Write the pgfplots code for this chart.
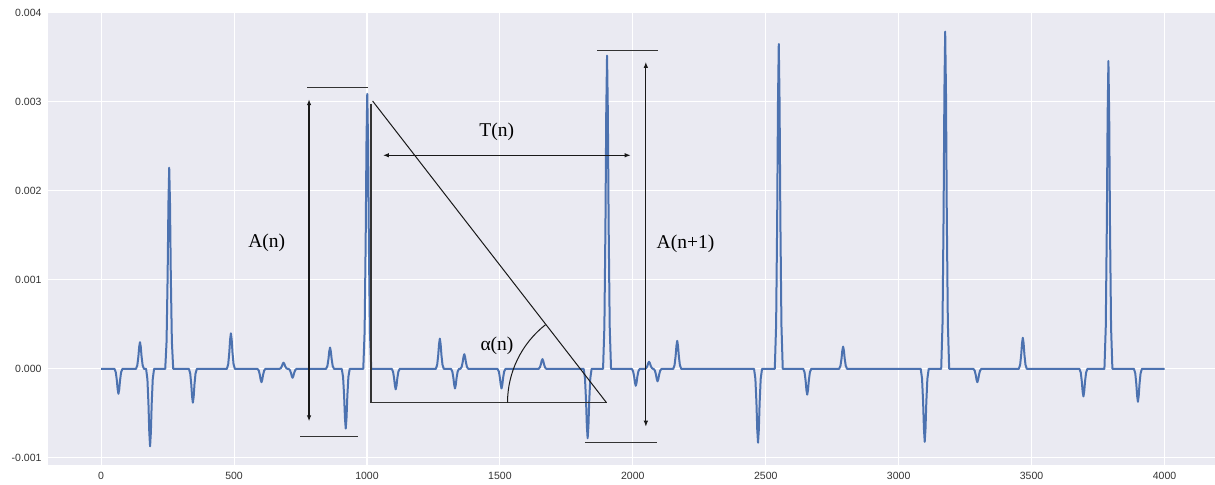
\documentclass[border=0pt]{standalone}
\usepackage{pgfplots}
\pgfplotsset{compat=1.18}
\usepackage{fontspec}
\setmainfont{Liberation Sans}
\newfontfamily\tnr{Liberation Serif}
\usetikzlibrary{arrows.meta}
\definecolor{sbbg}{HTML}{EAEAF2}
\definecolor{sbblue}{HTML}{4C72B0}
\begin{document}
\begin{tikzpicture}
\begin{axis}[
  name=ax,
  scale only axis, width=1167pt, height=453pt,
  xmin=-200, xmax=4190, ymin=-0.00108, ymax=0.00401,
  axis background/.style={fill=sbbg},
  axis line style={draw=none},
  tick style={draw=none},
  major tick length=0pt,
  grid=major, major grid style={white, line width=1.1pt},
  xtick={0,500,...,4000}, ytick={-0.001,0,0.001,0.002,0.003,0.004},
  scaled ticks=false,
  /pgf/number format/assume math mode=true,
  xticklabel style={/pgf/number format/1000 sep={}, yshift=-4pt},
  yticklabel style={/pgf/number format/.cd, fixed, fixed zerofill, precision=3, /tikz/.cd, xshift=-3pt},
  ticklabel style={font=\fontsize{10.5}{12}\selectfont, text=black!80},
]
\addplot[sbblue, line width=2pt, line join=round, mark=none] table[row sep=\\] {
x y\\
0 0\\
50 0\\ 55 -0.378e-4\\ 59 -1.288e-4\\ 62 -2.296e-4\\ 65 -2.8e-4\\ 68 -2.296e-4\\ 71 -1.288e-4\\ 75 -0.378e-4\\ 80 0\\
131 0\\ 136 0.405e-4\\ 140 1.38e-4\\ 143 2.46e-4\\ 146 3.0e-4\\ 149 2.46e-4\\ 152 1.38e-4\\ 156 0.405e-4\\ 161 0\\
169 0\\ 174 -1.17e-4\\ 178 -4.0e-4\\ 181 -7.13e-4\\ 184 -8.7e-4\\ 187 -7.13e-4\\ 190 -4.0e-4\\ 194 -1.17e-4\\ 199 0\\
241 0\\ 246 3.05e-4\\ 250 10.4e-4\\ 253 18.53e-4\\ 256 22.6e-4\\ 259 18.53e-4\\ 262 10.4e-4\\ 266 3.05e-4\\ 271 0\\
330 0\\ 335 -0.51e-4\\ 339 -1.75e-4\\ 342 -3.12e-4\\ 345 -3.8e-4\\ 348 -3.12e-4\\ 351 -1.75e-4\\ 355 -0.51e-4\\ 360 0\\
473 0\\ 478 0.54e-4\\ 482 1.84e-4\\ 485 3.28e-4\\ 488 4.0e-4\\ 491 3.28e-4\\ 494 1.84e-4\\ 498 0.54e-4\\ 503 0\\
588 0\\ 593 -0.2e-4\\ 597 -0.69e-4\\ 600 -1.23e-4\\ 603 -1.5e-4\\ 606 -1.23e-4\\ 609 -0.69e-4\\ 613 -0.2e-4\\ 618 0\\
671 0\\ 676 0.09e-4\\ 680 0.32e-4\\ 683 0.57e-4\\ 686 0.7e-4\\ 689 0.57e-4\\ 692 0.32e-4\\ 696 0.09e-4\\ 701 0\\
705 0\\ 710 -0.135e-4\\ 714 -0.46e-4\\ 717 -0.82e-4\\ 720 -1.0e-4\\ 723 -0.82e-4\\ 726 -0.46e-4\\ 730 -0.135e-4\\ 735 0\\
846 0\\ 851 0.32e-4\\ 855 1.1e-4\\ 858 1.97e-4\\ 861 2.4e-4\\ 864 1.97e-4\\ 867 1.1e-4\\ 871 0.32e-4\\ 876 0\\
905 0\\ 910 -0.9e-4\\ 914 -3.08e-4\\ 917 -5.49e-4\\ 920 -6.7e-4\\ 923 -5.49e-4\\ 926 -3.08e-4\\ 930 -0.9e-4\\ 935 0\\
986 0\\ 991 4.17e-4\\ 995 14.21e-4\\ 998 25.34e-4\\ 1001 30.9e-4\\ 1004 25.34e-4\\ 1007 14.21e-4\\ 1011 4.17e-4\\ 1016 0\\
1093 0\\ 1098 -0.31e-4\\ 1102 -1.06e-4\\ 1105 -1.89e-4\\ 1108 -2.3e-4\\ 1111 -1.89e-4\\ 1114 -1.06e-4\\ 1118 -0.31e-4\\ 1123 0\\
1259 0\\ 1264 0.46e-4\\ 1268 1.56e-4\\ 1271 2.79e-4\\ 1274 3.4e-4\\ 1277 2.79e-4\\ 1280 1.56e-4\\ 1284 0.46e-4\\ 1289 0\\
1316 0\\ 1321 -0.3e-4\\ 1325 -1.01e-4\\ 1328 -1.8e-4\\ 1331 -2.2e-4\\ 1334 -1.8e-4\\ 1337 -1.01e-4\\ 1341 -0.3e-4\\ 1346 0\\
1351 0\\ 1356 0.22e-4\\ 1360 0.76e-4\\ 1363 1.35e-4\\ 1366 1.65e-4\\ 1369 1.35e-4\\ 1372 0.76e-4\\ 1376 0.22e-4\\ 1381 0\\
1491 0\\ 1496 -0.3e-4\\ 1500 -1.01e-4\\ 1503 -1.8e-4\\ 1506 -2.2e-4\\ 1509 -1.8e-4\\ 1512 -1.01e-4\\ 1516 -0.3e-4\\ 1521 0\\
1645 0\\ 1650 0.15e-4\\ 1654 0.51e-4\\ 1657 0.9e-4\\ 1660 1.1e-4\\ 1663 0.9e-4\\ 1666 0.51e-4\\ 1670 0.15e-4\\ 1675 0\\
1815 0\\ 1820 -1.05e-4\\ 1824 -3.59e-4\\ 1827 -6.4e-4\\ 1830 -7.8e-4\\ 1833 -6.4e-4\\ 1836 -3.59e-4\\ 1840 -1.05e-4\\ 1845 0\\
1888 0\\ 1893 4.75e-4\\ 1897 16.19e-4\\ 1900 28.86e-4\\ 1903 35.2e-4\\ 1906 28.86e-4\\ 1909 16.19e-4\\ 1913 4.75e-4\\ 1918 0\\
1996 0\\ 2001 -0.26e-4\\ 2005 -0.87e-4\\ 2008 -1.56e-4\\ 2011 -1.9e-4\\ 2014 -1.56e-4\\ 2017 -0.87e-4\\ 2021 -0.26e-4\\ 2026 0\\
2046 0\\ 2051 0.11e-4\\ 2055 0.37e-4\\ 2058 0.66e-4\\ 2061 0.8e-4\\ 2064 0.66e-4\\ 2067 0.37e-4\\ 2071 0.11e-4\\ 2076 0\\
2078 0\\ 2083 -0.19e-4\\ 2087 -0.64e-4\\ 2090 -1.15e-4\\ 2093 -1.4e-4\\ 2096 -1.15e-4\\ 2099 -0.64e-4\\ 2103 -0.19e-4\\ 2108 0\\
2152 0\\ 2157 0.43e-4\\ 2161 1.45e-4\\ 2164 2.58e-4\\ 2167 3.15e-4\\ 2170 2.58e-4\\ 2173 1.45e-4\\ 2177 0.43e-4\\ 2182 0\\
2456 0\\ 2461 -1.12e-4\\ 2465 -3.82e-4\\ 2468 -6.81e-4\\ 2471 -8.3e-4\\ 2474 -6.81e-4\\ 2477 -3.82e-4\\ 2481 -1.12e-4\\ 2486 0\\
2534 0\\ 2539 4.93e-4\\ 2543 16.79e-4\\ 2546 29.93e-4\\ 2549 36.5e-4\\ 2552 29.93e-4\\ 2555 16.79e-4\\ 2559 4.93e-4\\ 2564 0\\
2641 0\\ 2646 -0.39e-4\\ 2650 -1.33e-4\\ 2653 -2.38e-4\\ 2656 -2.9e-4\\ 2659 -2.38e-4\\ 2662 -1.33e-4\\ 2666 -0.39e-4\\ 2671 0\\
2776 0\\ 2781 0.34e-4\\ 2785 1.15e-4\\ 2788 2.05e-4\\ 2791 2.5e-4\\ 2794 2.05e-4\\ 2797 1.15e-4\\ 2801 0.34e-4\\ 2806 0\\
3083 0\\ 3088 -1.11e-4\\ 3092 -3.77e-4\\ 3095 -6.72e-4\\ 3098 -8.2e-4\\ 3101 -6.72e-4\\ 3104 -3.77e-4\\ 3108 -1.11e-4\\ 3113 0\\
3160 0\\ 3165 5.12e-4\\ 3169 17.43e-4\\ 3172 31.08e-4\\ 3175 37.9e-4\\ 3178 31.08e-4\\ 3181 17.43e-4\\ 3185 5.12e-4\\ 3190 0\\
3281 0\\ 3286 -0.2e-4\\ 3290 -0.69e-4\\ 3293 -1.23e-4\\ 3296 -1.5e-4\\ 3299 -1.23e-4\\ 3302 -0.69e-4\\ 3306 -0.2e-4\\ 3311 0\\
3452 0\\ 3457 0.47e-4\\ 3461 1.61e-4\\ 3464 2.87e-4\\ 3467 3.5e-4\\ 3470 2.87e-4\\ 3473 1.61e-4\\ 3477 0.47e-4\\ 3482 0\\
3680 0\\ 3685 -0.42e-4\\ 3689 -1.43e-4\\ 3692 -2.54e-4\\ 3695 -3.1e-4\\ 3698 -2.54e-4\\ 3701 -1.43e-4\\ 3705 -0.42e-4\\ 3710 0\\
3774 0\\ 3779 4.67e-4\\ 3783 15.92e-4\\ 3786 28.37e-4\\ 3789 34.6e-4\\ 3792 28.37e-4\\ 3795 15.92e-4\\ 3799 4.67e-4\\ 3804 0\\
3885 0\\ 3890 -0.5e-4\\ 3894 -1.7e-4\\ 3897 -3.03e-4\\ 3900 -3.7e-4\\ 3903 -3.03e-4\\ 3906 -1.7e-4\\ 3910 -0.5e-4\\ 3915 0\\
4000 0\\
};
% annotations
\tikzset{ann/.style={black!80, line width=1.2pt},
  dbl/.style={black!90, line width=1.1pt, {Latex[length=6pt,width=4.5pt]}-{Latex[length=6pt,width=4.5pt]}},
  lab/.style={font=\tnr\fontsize{19.5}{22}\selectfont, text=black}}
% A(n)
\draw[ann] (axis cs:776,0.00316) -- (axis cs:1005,0.00316);
\draw[dbl] (axis cs:782,0.00303) -- (axis cs:782,-0.00059);
\draw[ann] (axis cs:748,-0.00076) -- (axis cs:965,-0.00076);
\node[lab] at (axis cs:623,0.00142) {A(n)};
% triangle
\draw[ann] (axis cs:1015,0.00298) -- (axis cs:1015,-0.00038) -- (axis cs:1901,-0.00038);
\draw[black!90, line width=1pt] (axis cs:1021,0.00301) -- (axis cs:1901,-0.00038);
\draw[black!90, line width=1pt] (axis cs:1901,-0.00038) ++(180:99pt) arc[start angle=180, end angle=128, radius=99pt];
\node[lab] at (axis cs:1489,0.00026) {α(n)};
% T(n)
\draw[dbl] (axis cs:1060,0.0024) -- (axis cs:1992,0.0024);
\node[lab] at (axis cs:1488,0.00266) {T(n)};
% A(n+1)
\draw[ann] (axis cs:1866,0.00358) -- (axis cs:2095,0.00358);
\draw[dbl] (axis cs:2049,0.00345) -- (axis cs:2049,-0.00065);
\draw[ann] (axis cs:1820,-0.00083) -- (axis cs:2091,-0.00083);
\node[lab] at (axis cs:2198,0.0014) {A(n+1)};
\end{axis}
\pgfresetboundingbox
\path ([xshift=-48pt,yshift=-20pt]ax.south west) rectangle ([yshift=12pt]ax.north east);
\end{tikzpicture}
\end{document}
